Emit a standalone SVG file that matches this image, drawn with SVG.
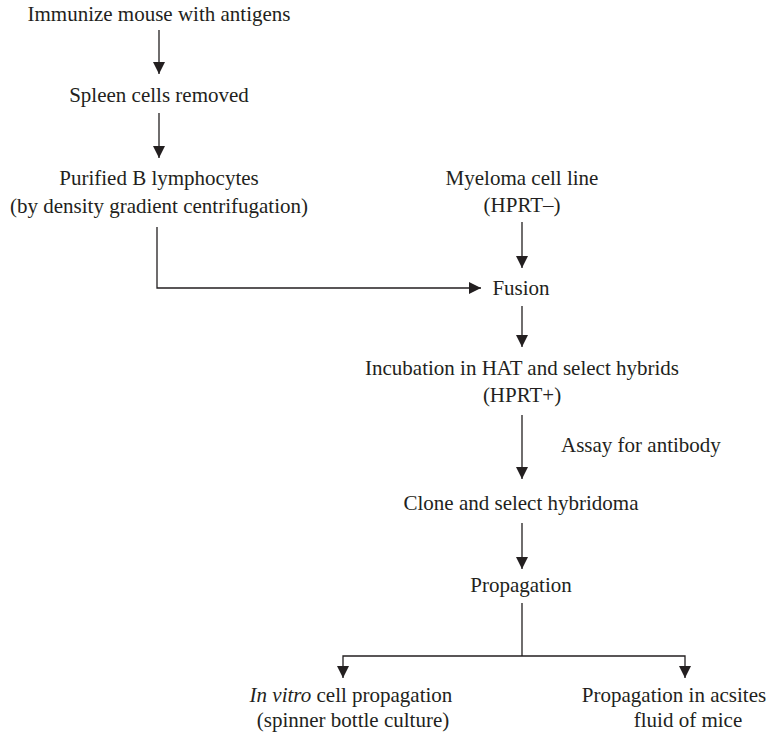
<svg xmlns="http://www.w3.org/2000/svg" width="779" height="732" viewBox="0 0 779 732">
<style>
text{font-family:"Liberation Serif","Times New Roman",serif;font-size:21px;fill:#231f20}
.c{text-anchor:middle}
.ln{stroke:#231f20;stroke-width:1.3;fill:none}
.ar{marker-end:url(#ah)}
</style>
<defs>
<marker id="ah" markerUnits="userSpaceOnUse" markerWidth="13" markerHeight="12" refX="12" refY="6" orient="auto" viewBox="0 0 12 12">
<path d="M0,0 L12,6 L0,12 z" fill="#231f20"/>
</marker>
</defs>
<rect width="779" height="732" fill="#fff"/>
<g id="connectors">
<line class="ln ar" x1="159" y1="30" x2="159" y2="74"/>
<line class="ln ar" x1="159" y1="113" x2="159" y2="158"/>
<line class="ln ar" x1="522" y1="222" x2="522" y2="268"/>
<polyline class="ln ar" points="157,227 157,288 481,288"/>
<line class="ln ar" x1="522" y1="306" x2="522" y2="347"/>
<line class="ln ar" x1="522" y1="415" x2="522" y2="479"/>
<line class="ln ar" x1="522" y1="523" x2="522" y2="569"/>
<line class="ln" x1="522" y1="603" x2="522" y2="656"/>
<polyline class="ln ar" points="522,656 343,656 343,678"/>
<polyline class="ln ar" points="522,656 685,656 685,678"/>
</g>
<g id="immunize"><text class="c" x="159" y="21">Immunize mouse with antigens</text></g>
<g id="spleen"><text class="c" x="159" y="102">Spleen cells removed</text></g>
<g id="purified"><text class="c" x="159" y="185">Purified B lymphocytes</text><text class="c" x="159" y="213">(by density gradient centrifugation)</text></g>
<g id="myeloma"><text class="c" x="522" y="185">Myeloma cell line</text><text class="c" x="522" y="212">(HPRT–)</text></g>
<g id="fusion"><text class="c" x="521" y="295">Fusion</text></g>
<g id="incubation"><text class="c" x="522" y="375">Incubation in HAT and select hybrids</text><text class="c" x="522" y="402">(HPRT+)</text></g>
<g id="assay"><text x="561" y="452">Assay for antibody</text></g>
<g id="clone"><text class="c" x="521" y="510">Clone and select hybridoma</text></g>
<g id="propagation"><text class="c" x="521" y="592">Propagation</text></g>
<g id="invitro"><text class="c" x="351" y="702"><tspan font-style="italic">In vitro</tspan> cell propagation</text><text class="c" x="353" y="727">(spinner bottle culture)</text></g>
<g id="ascites"><text class="c" x="674" y="702">Propagation in acsites</text><text class="c" x="688" y="727">fluid of mice</text></g>
</svg>
